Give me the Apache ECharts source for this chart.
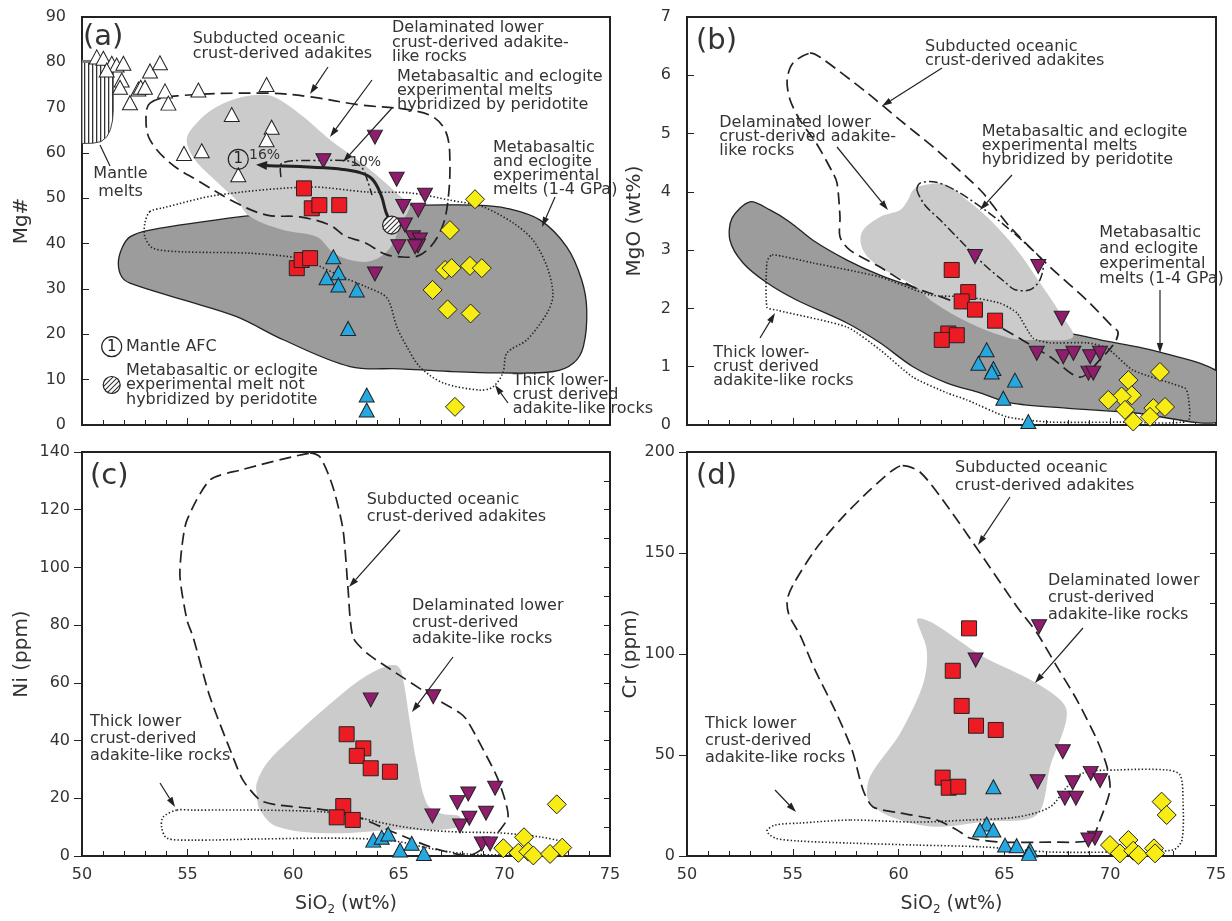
<!DOCTYPE html>
<html>
<head>
<meta charset="utf-8">
<title>SiO2 variation diagrams</title>
<script src="https://cdn.jsdelivr.net/npm/echarts/dist/echarts.min.js"></script>
<style>
  html, body { margin: 0; padding: 0; background: #fff; }
  #main { width: 1232px; height: 921px; }
</style>
</head>
<body>
<div id="main"></div>
<script>
// ---- data: [SiO2 wt%, value] ----
// (a) Mg#
const aWhite = [[50.70,81.2],[51.01,80.9],[51.41,79.8],[51.64,79.4],[51.96,79.8],[51.17,78.3],[51.88,76.1],[51.80,74.5],[52.27,71.1],[52.67,74.1],[52.78,74.5],[52.98,74.5],[53.22,78.1],[53.69,79.9],[53.93,73.7],[54.09,71.0],[55.51,73.9],[57.09,68.5],[58.74,75.1],[58.98,65.7],[58.74,62.9],[54.83,59.9],[55.67,60.5],[57.40,55.2]];
const aRed = [[60.51,52.2],[60.88,47.8],[61.24,48.5],[62.18,48.5],[60.17,34.6],[60.40,36.4],[60.80,36.8]];
const aPurple = [[61.43,58.3],[63.87,63.5],[64.90,54.2],[66.24,50.7],[65.21,48.2],[65.92,47.4],[65.29,44.1],[64.98,39.3],[65.67,41.3],[66.00,40.8],[65.91,39.5],[65.77,39.3],[63.87,33.3]];
const aBlue = [[61.90,37.1],[61.58,32.5],[62.14,33.6],[62.14,30.9],[63.01,29.8],[62.60,21.3],[63.48,6.6],[63.48,3.3]];
const aYellow = [[68.61,49.8],[67.42,43.0],[67.19,34.2],[67.50,34.6],[68.37,35.1],[68.93,34.6],[66.60,29.8],[67.31,25.5],[68.40,24.6],[67.66,4.0]];

// (b) MgO
const bRed = [[62.51,2.66],[63.29,2.28],[62.98,2.12],[63.61,1.98],[64.56,1.79],[62.35,1.57],[62.75,1.54],[62.04,1.46]];
const bPurple = [[63.61,2.89],[66.60,2.72],[67.71,1.83],[66.53,1.23],[67.78,1.17],[68.26,1.23],[69.05,1.17],[69.52,1.23],[68.97,0.89],[69.20,0.89]];
const bBlue = [[64.16,1.29],[63.77,1.06],[64.48,0.97],[64.40,0.91],[65.50,0.77],[64.95,0.46],[66.13,0.06]];
const bYellow = [[72.35,0.91],[70.86,0.77],[71.02,0.51],[70.54,0.49],[69.91,0.43],[70.70,0.26],[72.04,0.29],[72.59,0.31],[71.88,0.14],[71.09,0.06]];

// (c) Ni
const cRed = [[62.53,42.2],[63.32,37.3],[63.01,34.7],[63.67,30.4],[64.58,29.2],[62.37,17.3],[62.06,13.4],[62.82,12.5]];
const cPurple = [[63.67,54.1],[66.63,55.2],[66.59,13.9],[68.29,21.5],[67.77,18.5],[69.56,23.5],[68.34,13.1],[67.90,10.4],[69.13,14.8],[68.93,4.2],[69.32,4.2]];
const cBlue = [[63.79,5.5],[64.19,6.5],[64.50,7.6],[65.06,2.1],[65.61,4.4],[66.19,0.9]];
const cYellow = [[72.48,17.9],[70.93,6.5],[69.95,2.7],[70.66,1.1],[71.13,1.5],[71.37,0.2],[72.16,0.7],[72.74,2.9]];

// (d) Cr
const dRed = [[63.33,112.7],[62.56,91.7],[62.98,74.3],[63.66,64.5],[64.59,62.4],[62.08,38.8],[62.37,33.8],[62.82,34.3]];
const dPurple = [[66.64,113.5],[63.64,97.0],[67.76,51.6],[66.57,36.8],[69.08,40.9],[69.52,37.3],[68.23,36.3],[67.86,28.6],[68.38,28.6],[69.28,8.8],[68.97,7.9]];
const dBlue = [[64.48,34.3],[64.16,15.8],[63.85,12.9],[64.48,12.9],[65.03,5.4],[65.58,5.1],[66.21,3.0],[66.16,1.3]];
const dYellow = [[72.43,26.9],[72.67,20.3],[69.99,5.4],[70.86,7.9],[70.46,1.3],[71.09,2.6],[71.33,0.5],[72.07,3.8],[72.12,1.3]];

// ---- field outlines ----
const aExpMelts = [[51.72,35.7],[51.89,39.0],[52.27,41.5],[53.22,43.0],[57.62,46.0],[60.32,47.2],[64.11,48.5],[66.16,48.5],[68.69,48.5],[70.11,47.8],[71.69,45.2],[72.95,39.3],[73.66,32.0],[73.90,25.4],[73.74,17.3],[73.26,13.6],[72.32,11.8],[69.79,11.5],[67.42,11.8],[65.06,12.4],[62.69,12.9],[59.53,18.8],[57.32,23.9],[54.80,27.6],[52.27,31.3],[51.88,32.7]];
const aHybrid = [[54.96,62.9],[55.43,66.6],[56.38,70.2],[57.64,72.4],[58.75,72.8],[59.38,71.7],[60.56,67.7],[61.74,62.9],[62.93,58.9],[64.11,54.5],[65.06,50.5],[65.53,48.5],[65.06,44.1],[64.68,39.7],[64.02,36.8],[63.16,36.0],[61.98,37.7],[61.11,41.5],[59.53,43.0],[57.95,46.0],[57.32,49.6],[56.30,54.0],[55.35,58.5]];
const aSubducted = [[53.22,71.0],[54.50,72.6],[58.76,73.2],[60.80,72.4],[63.16,70.6],[65.53,69.5],[66.71,67.7],[67.28,64.0],[67.42,57.4],[67.33,49.6],[67.09,44.1],[66.57,39.7],[65.91,37.3],[65.06,37.1],[64.35,37.7],[63.40,40.2],[62.45,41.7],[61.74,44.1],[60.32,45.9],[58.76,46.3],[57.34,48.9],[55.45,54.0],[54.17,57.8],[53.22,62.9],[53.03,67.3]];
const aThickCrust = [[53.22,47.1],[52.98,44.6],[52.98,41.5],[53.36,39.0],[54.78,38.2],[57.95,37.9],[60.32,36.8],[60.94,35.7],[62.36,32.6],[63.49,30.4],[64.44,28.0],[64.91,21.6],[65.39,17.2],[66.00,12.8],[67.09,9.3],[68.84,7.7],[69.46,8.4],[69.93,11.5],[70.12,15.9],[71.07,18.8],[72.02,24.7],[72.30,28.7],[72.02,34.9],[71.35,40.8],[70.41,44.6],[68.99,48.1],[67.42,49.6],[65.53,51.2],[63.49,51.4],[60.80,52.5],[56.39,50.7],[53.84,47.9]];
const aHybridEdge = [[59.42,54.7],[59.47,57.8],[61.27,58.35],[62.69,58.2],[63.26,56.7],[63.54,53.6],[63.73,50.7]];
const aMantleMelts = [[50.0,80.2],[51.48,80.2],[51.48,69.5],[51.45,67.3],[51.35,65.2],[51.18,63.6],[50.9,62.5],[50.5,62.15],[50.0,62.1]];
const aAfcTrend = [[64.66,44.1],[64.39,47.0],[64.16,50.7],[63.73,54.3],[63.07,55.8],[62.12,56.5],[60.32,57.0],[58.90,57.2],[58.24,57.4]];
const aAfcMark = [[57.40,58.6]];

const bExpMelts = [[52.98,3.83],[53.92,3.69],[54.87,3.48],[55.95,3.17],[57.56,2.83],[59.12,2.57],[60.68,2.37],[62.29,2.20],[63.85,1.97],[65.26,1.77],[67.16,1.60],[68.24,1.56],[69.52,1.46],[72.35,1.25],[75.3,0.85],[75.3,0.07],[71.08,0.21],[67.91,0.29],[65.26,0.38],[63.85,0.55],[62.29,0.72],[60.68,1.00],[59.12,1.41],[57.56,1.75],[55.20,2.14],[53.78,2.44],[52.65,2.78],[52.03,3.17],[52.13,3.55]];
const bHybrid = [[58.27,3.31],[59.12,3.57],[60.07,3.69],[60.44,3.86],[60.68,4.03],[61.01,4.10],[62.19,4.13],[63.23,3.86],[64.32,3.52],[65.60,3.00],[66.68,2.44],[67.63,1.92],[68.24,1.51],[66.68,1.46],[65.26,1.49],[63.23,1.77],[61.63,2.11],[60.68,2.40],[59.12,2.71],[58.32,3.00]];
const bSubducted = [[55.81,6.38],[56.29,6.31],[58.51,5.70],[60.07,5.23],[61.63,4.77],[63.23,4.25],[63.99,3.98],[65.26,3.40],[67.16,2.71],[68.90,2.14],[70.13,1.68],[70.37,1.60],[70.23,1.42],[69.52,1.12],[68.57,0.82],[67.16,1.17],[64.79,1.68],[62.43,2.14],[60.68,2.37],[59.12,2.71],[57.70,3.00],[57.23,3.23],[57.23,3.57],[57.09,4.15],[56.90,4.32],[56.10,4.84],[55.34,5.23],[54.87,5.58],[54.73,5.92],[55.01,6.21]];
const bHybridEdge = [[60.87,4.03],[61.01,4.15],[61.72,4.17],[62.67,4.03],[64.08,3.69],[65.26,3.35],[66.21,3.04],[66.82,2.80],[66.68,2.49],[66.21,2.32],[65.50,2.32],[65.03,2.45],[64.08,2.74],[62.90,3.17],[61.96,3.52],[61.25,3.77]];
const bThickCrust = [[54.02,2.92],[55.95,2.78],[59.12,2.54],[61.48,2.23],[63.23,2.20],[64.79,2.09],[65.60,1.92],[66.35,1.49],[67.16,1.41],[68.90,1.41],[69.85,1.32],[71.08,0.94],[73.54,0.63],[73.68,0.51],[73.68,0.07],[70.46,0.05],[67.16,0.05],[65.12,0.14],[63.23,0.43],[62.29,0.55],[60.68,0.82],[59.12,1.29],[57.56,1.68],[54.25,1.97],[53.78,2.02],[53.78,2.80]];

const cSubducted = [[60.80,139.6],[61.27,138.3],[61.88,127.9],[62.36,113.0],[62.59,93.2],[62.83,75.9],[63.49,70.3],[64.44,65.5],[66.62,55.1],[67.90,49.5],[68.23,47.1],[69.18,34.3],[69.65,27.4],[70.03,19.4],[70.17,13.5],[69.79,9.0],[69.18,3.8],[68.47,0.4],[67.90,0.4],[66.62,2.8],[64.73,8.3],[63.16,13.2],[61.60,15.9],[59.23,17.7],[58.43,19.4],[57.62,26.3],[57.15,34.3],[56.06,55.1],[55.26,75.9],[54.97,81.8],[54.64,96.7],[54.73,107.1],[54.97,116.4],[56.06,130.3],[57.48,133.7]];
const cDelaminated = [[58.27,25.2],[58.75,32.1],[60.00,41.3],[61.59,51.7],[63.16,61.0],[64.43,65.8],[64.98,65.6],[65.21,61.0],[65.53,46.0],[65.85,32.1],[66.32,18.3],[66.95,14.8],[67.90,13.6],[67.66,9.7],[64.73,9.0],[61.59,7.9],[59.22,10.2],[58.43,15.9],[58.27,21.8]];
const cThickCrust = [[54.48,15.9],[53.84,13.5],[53.77,10.0],[54.02,6.2],[55.26,5.5],[58.43,5.9],[61.60,6.2],[63.64,5.9],[65.06,4.9],[66.62,2.4],[68.23,0.7],[69.79,0.4],[71.69,0.4],[72.77,1.4],[72.96,3.5],[72.77,4.9],[71.69,6.6],[69.79,8.0],[67.90,8.3],[66.34,9.0],[64.73,10.7],[63.16,13.2],[61.60,15.2],[58.43,15.9],[55.26,15.9]];

const dSubducted = [[60.07,193.1],[58.65,181.2],[57.23,166.3],[56.05,151.5],[55.01,134.2],[54.73,126.7],[54.82,119.3],[55.34,109.4],[56.05,92.1],[56.99,72.3],[57.80,52.5],[58.32,32.7],[58.79,24.3],[60.07,21.3],[61.81,17.8],[62.76,12.9],[63.37,8.9],[64.79,6.9],[67.16,6.9],[69.05,7.9],[69.52,17.8],[69.99,32.7],[69.85,44.1],[69.38,57.4],[68.43,77.2],[67.49,93.6],[66.54,110.4],[65.60,123.3],[64.08,146.5],[62.43,171.3],[61.01,190.1]];
const dDelaminated = [[60.86,116.8],[61.33,102.0],[61.17,85.5],[60.07,60.7],[58.65,39.3],[58.57,27.7],[59.59,19.5],[61.64,14.5],[64.00,17.0],[66.53,20.3],[67.16,44.2],[67.94,72.3],[66.53,85.5],[64.00,98.7],[61.64,115.2],[61.01,117.7]];
const dThickCrust = [[57.70,17.8],[55.34,16.3],[54.16,15.3],[53.78,12.4],[54.16,8.9],[55.34,7.4],[57.70,6.4],[60.87,5.4],[63.99,4.5],[67.16,2.0],[70.32,2.0],[72.97,3.0],[73.39,7.9],[73.44,27.7],[73.30,40.1],[72.68,42.6],[70.32,42.6],[68.71,41.1],[67.96,34.2],[67.16,24.3],[65.60,19.3],[63.23,17.8],[60.87,16.8]];

// ---- axis ranges ----
const yMax = [90, 7, 140, 200];
const yStep = [10, 1, 20, 50];
const yNames = ['Mg#', 'MgO (wt%)', 'Ni (ppm)', 'Cr (ppm)'];

const FONT = 'DejaVu Sans';
const INK = '#222';

function makePattern(kind) {
  const c = document.createElement('canvas');
  const ctx = c.getContext('2d');
  if (kind === 'v') {
    c.width = 4; c.height = 4;
    ctx.fillStyle = '#fff'; ctx.fillRect(0, 0, 4, 4);
    ctx.fillStyle = '#333'; ctx.fillRect(0, 0, 1.3, 4);
  } else {
    c.width = 5; c.height = 5;
    ctx.fillStyle = '#fff'; ctx.fillRect(0, 0, 5, 5);
    ctx.strokeStyle = '#333'; ctx.lineWidth = 1.1;
    ctx.beginPath();
    ctx.moveTo(0, 5); ctx.lineTo(5, 0);
    ctx.moveTo(-1, 1); ctx.lineTo(1, -1);
    ctx.moveTo(4, 6); ctx.lineTo(6, 4);
    ctx.stroke();
  }
  return { image: c, repeat: 'repeat' };
}
const vHatch = makePattern('v');
const dHatch = makePattern('d');

const darkStyle = { fill: '#9c9c9c', stroke: INK, lineWidth: 1.3 };
const lightStyle = { fill: '#cbcbcb' };
const dashStyle = { fill: 'none', stroke: INK, lineWidth: 1.7, lineDash: [12, 6] };
const dotStyle = { fill: 'none', stroke: INK, lineWidth: 1.6, lineDash: [1.4, 2.1] };
const dashDotStyle = { fill: 'none', stroke: INK, lineWidth: 1.5, lineDash: [9, 3, 2, 3] };

function field(gi, pts, style, smooth, z, open) {
  return {
    type: 'custom', xAxisIndex: gi, yAxisIndex: gi, data: [pts[0]],
    silent: true, clip: true, z: z,
    renderItem: function (params, api) {
      return {
        type: open ? 'polyline' : 'polygon',
        shape: { points: pts.map(function (p) { return api.coord(p); }), smooth: smooth },
        style: style
      };
    }
  };
}

function samples(gi, data, symbol, color, size, rotate) {
  return {
    type: 'scatter', xAxisIndex: gi, yAxisIndex: gi, data: data,
    symbol: symbol, symbolSize: size, symbolRotate: rotate || 0,
    itemStyle: { color: color, borderColor: INK, borderWidth: 1, opacity: 1 },
    silent: true, z: 5
  };
}

function panelSeries(gi, red, purple, blue, yellow) {
  return [
    samples(gi, blue, 'triangle', '#25a7df', [15, 14]),
    samples(gi, yellow, 'diamond', '#f7ec13', [19, 19]),
    samples(gi, purple, 'triangle', '#8f1c6c', [15, 14], 180),
    samples(gi, red, 'rect', '#ed1c24', [15, 15])
  ];
}

const series = [
  // (a)
  field(0, aExpMelts, darkStyle, 0.35, 1),
  field(0, aHybrid, lightStyle, 0.35, 2),
  field(0, aThickCrust, dotStyle, 0.3, 3),
  field(0, aSubducted, dashStyle, 0.35, 3),
  field(0, aHybridEdge, dashDotStyle, 0.3, 3, true),
  {
    type: 'custom', xAxisIndex: 0, yAxisIndex: 0, data: [aMantleMelts[0]], silent: true, z: 3,
    renderItem: function (params, api) {
      const p = aMantleMelts.map(function (q) { return api.coord(q); });
      return { type: 'group', children: [
        { type: 'polygon', shape: { points: p }, style: { fill: vHatch, stroke: '#444', lineWidth: 1 } },
        { type: 'line', shape: { x1: p[0][0], y1: p[0][1], x2: p[1][0], y2: p[1][1] }, style: { stroke: '#7a7a7a', lineWidth: 3 } }
      ] };
    }
  },
  samples(0, aWhite, 'triangle', '#ffffff', [15, 14]),
  {
    type: 'custom', xAxisIndex: 0, yAxisIndex: 0, data: [aAfcTrend[0]], silent: true, z: 4,
    renderItem: function (params, api) {
      const p = aAfcTrend.map(function (q) { return api.coord(q); });
      const n = p.length, e = p[n - 1], s = p[n - 2];
      const a = Math.atan2(e[1] - s[1], e[0] - s[0]);
      const L = 11, W = 4.5;
      const bx = e[0] - L * Math.cos(a), by = e[1] - L * Math.sin(a);
      const line = p.slice(0, n - 1).concat([[bx, by]]);
      return { type: 'group', children: [
        { type: 'polyline', shape: { points: line, smooth: 0.4 }, style: { stroke: INK, lineWidth: 3, fill: 'none' } },
        { type: 'polygon', shape: { points: [e, [bx - W * Math.sin(a), by + W * Math.cos(a)], [bx + W * Math.sin(a), by - W * Math.cos(a)]] }, style: { fill: INK } },
        { type: 'circle', z2: 10, shape: { cx: p[0][0], cy: p[0][1], r: 9 }, style: { fill: dHatch, stroke: INK, lineWidth: 1.2 } }
      ] };
    }
  },
  {
    type: 'scatter', xAxisIndex: 0, yAxisIndex: 0, data: aAfcMark, symbol: 'circle', symbolSize: 20,
    itemStyle: { color: 'rgba(255,255,255,0)', borderColor: INK, borderWidth: 1.2, opacity: 1 },
    label: { show: true, position: 'inside', formatter: '1', fontFamily: FONT, fontSize: 15, color: '#222' },
    silent: true, z: 6
  }
].concat(panelSeries(0, aRed, aPurple, aBlue, aYellow), [
  // (b)
  field(1, bExpMelts, darkStyle, 0.3, 1),
  field(1, bHybrid, lightStyle, 0.35, 2),
  field(1, bThickCrust, dotStyle, 0.2, 3),
  field(1, bSubducted, dashStyle, 0.3, 3),
  field(1, bHybridEdge, dashDotStyle, 0.3, 3)
], panelSeries(1, bRed, bPurple, bBlue, bYellow), [
  // (c)
  field(2, cDelaminated, lightStyle, 0.35, 2),
  field(2, cThickCrust, dotStyle, 0.3, 3),
  field(2, cSubducted, dashStyle, 0.25, 3)
], panelSeries(2, cRed, cPurple, cBlue, cYellow), [
  // (d)
  field(3, dDelaminated, lightStyle, 0.3, 2),
  field(3, dThickCrust, dotStyle, 0.3, 3),
  field(3, dSubducted, dashStyle, 0.25, 3)
], panelSeries(3, dRed, dPurple, dBlue, dYellow));

// ---- layout ----
const grids = [
  { left: 82, top: 17, width: 528, height: 408 },
  { left: 687, top: 17, width: 529, height: 408 },
  { left: 82, top: 452, width: 528, height: 404 },
  { left: 687, top: 452, width: 529, height: 404 }
].map(function (g) {
  return Object.assign({ show: true, borderColor: INK, borderWidth: 2, backgroundColor: 'transparent', outerBoundsMode: 'none' }, g);
});

const xAxes = [0, 1, 2, 3].map(function (i) {
  return {
    gridIndex: i, type: 'value', min: 50, max: 75, interval: 5,
    name: i >= 2 ? 'SiO{sub|2} (wt%)' : '', nameLocation: 'middle', nameGap: 36,
    nameTextStyle: { fontFamily: FONT, fontSize: 19, color: '#333',
      rich: { sub: { fontFamily: FONT, fontSize: 12, color: '#333', padding: [12, 0, 0, 0] } } },
    axisLine: { show: true, onZero: false, lineStyle: { color: INK, width: 2 } },
    axisTick: { show: true, inside: true, length: 7, lineStyle: { color: INK, width: 1 } },
    minorTick: { show: true, splitNumber: 5, length: 5, lineStyle: { color: INK, width: 1 } },
    axisLabel: { show: i >= 2, margin: 11, fontFamily: FONT, fontSize: 16, color: '#333' },
    splitLine: { show: false }
  };
});

const yAxes = [0, 1, 2, 3].map(function (i) {
  return {
    gridIndex: i, type: 'value', min: 0, max: yMax[i], interval: yStep[i],
    name: yNames[i], nameLocation: 'middle', nameGap: i % 2 === 0 ? 50 : 42,
    nameTextStyle: { fontFamily: FONT, fontSize: 20, color: '#333' },
    axisLine: { show: true, onZero: false, lineStyle: { color: INK, width: 2 } },
    axisTick: { show: true, inside: i < 2, length: i < 2 ? 7 : 8, lineStyle: { color: INK, width: 1 } },
    axisLabel: { margin: i < 2 ? 16 : 12, fontFamily: FONT, fontSize: 16, color: '#333' },
    splitLine: { show: false }
  };
}).concat([2, 3].map(function (i) {
  return {
    gridIndex: i, type: 'value', min: 0, max: yMax[i], interval: yStep[i] / 2,
    axisLine: { show: false }, axisLabel: { show: false }, splitLine: { show: false },
    axisTick: { show: true, inside: true, length: 6, lineStyle: { color: INK, width: 1 } }
  };
}));

// ---- annotations (pixel layout) ----
function label(x, yc, s, lh, align, size) {
  lh = lh || 14.5;
  return {
    type: 'text', x: x, y: yc - lh / 2, z: 50, silent: true,
    style: { text: s, fontFamily: FONT, fontSize: size || 16, lineHeight: lh, fill: '#333', verticalAlign: 'top', align: align || 'left' }
  };
}
function arrow(x1, y1, x2, y2) {
  const a = Math.atan2(y2 - y1, x2 - x1), L = 10, W = 3.2;
  const bx = x2 - L * Math.cos(a), by = y2 - L * Math.sin(a);
  return [
    { type: 'line', z: 50, silent: true, shape: { x1: x1, y1: y1, x2: bx, y2: by }, style: { stroke: INK, lineWidth: 1.2 } },
    { type: 'polygon', z: 50, silent: true, shape: { points: [[x2, y2], [bx - W * Math.sin(a), by + W * Math.cos(a)], [bx + W * Math.sin(a), by - W * Math.cos(a)]] }, style: { fill: INK } }
  ];
}
function letter(x, yc, s) {
  return { type: 'text', x: x, y: yc, z: 50, silent: true,
    style: { text: s, fontFamily: FONT, fontSize: 29, fill: '#333', verticalAlign: 'middle', align: 'left' } };
}

const graphic = [
  letter(83, 37, '(a)'), letter(696, 41, '(b)'), letter(90, 476, '(c)'), letter(696, 476, '(d)'),
  // (a)
  label(192.7, 39, 'Subducted oceanic\ncrust-derived adakites'),
  label(392, 28, 'Delaminated lower\ncrust-derived adakite-\nlike rocks'),
  label(397, 77, 'Metabasaltic and eclogite\nexperimental melts\nhybridized by peridotite', 14),
  label(493, 148, 'Metabasaltic\nand eclogite\nexperimental\nmelts (1-4 GPa)', 14),
  label(512.7, 381, 'Thick lower-\ncrust derived\nadakite-like rocks', 14),
  label(120.5, 174, 'Mantle\nmelts', 17.5, 'center'),
  label(126, 347, 'Mantle AFC'),
  label(126, 371, 'Metabasaltic or eclogite\nexperimental melt not\nhybridized by peridotite', 14.2),
  label(249, 155, '16%', 14, 'left', 14),
  label(350, 162, '10%', 14, 'left', 14),
  { type: 'line', z: 50, silent: true, shape: { x1: 100, y1: 145, x2: 110, y2: 166 }, style: { stroke: INK, lineWidth: 1.2 } },
  { type: 'circle', z: 50, silent: true, shape: { cx: 111.7, cy: 346.7, r: 10 }, style: { fill: 'none', stroke: INK, lineWidth: 1.2 } },
  { type: 'text', z: 51, silent: true, x: 111.7, y: 347, style: { text: '1', fontFamily: FONT, fontSize: 15, fill: '#222', align: 'center', verticalAlign: 'middle' } },
  { type: 'circle', z: 50, silent: true, shape: { cx: 111.7, cy: 385, r: 8.5 }, style: { fill: dHatch, stroke: INK, lineWidth: 1.2 } },
  // (b)
  label(925, 46.7, 'Subducted oceanic\ncrust-derived adakites'),
  label(719.3, 122.7, 'Delaminated lower\ncrust-derived adakite-\nlike rocks', 14),
  label(981.7, 131.7, 'Metabasaltic and eclogite\nexperimental melts\nhybridized by peridotite', 14.2),
  label(1099.3, 233.3, 'Metabasaltic\nand eclogite\nexperimental\nmelts (1-4 GPa)', 15.2),
  label(713.3, 352.7, 'Thick lower-\ncrust derived\nadakite-like rocks', 14.2),
  // (c)
  label(366.7, 500, 'Subducted oceanic\ncrust-derived adakites', 16.5),
  label(412, 606, 'Delaminated lower\ncrust-derived\nadakite-like rocks', 16.5),
  label(90, 722, 'Thick lower\ncrust-derived\nadakite-like rocks', 17),
  // (d)
  label(955, 468, 'Subducted oceanic\ncrust-derived adakites', 18),
  label(1048, 581, 'Delaminated lower\ncrust-derived\nadakite-like rocks', 17),
  label(705, 724, 'Thick lower\ncrust-derived\nadakite-like rocks', 17)
].concat(
  arrow(328, 67, 310, 94), arrow(372, 80, 330, 137), arrow(392, 108, 343, 162),
  arrow(555, 197, 542, 227), arrow(508, 403, 495, 385),
  arrow(942, 68, 882, 106), arrow(837, 147, 888, 210), arrow(1012, 175, 980, 210),
  arrow(1160, 290, 1160, 353), arrow(760, 338, 775, 313),
  arrow(400, 530, 349, 587), arrow(453, 657, 412, 712), arrow(160, 783, 175, 807),
  arrow(1010, 497, 978, 545), arrow(1083, 628, 1035, 683), arrow(775, 790, 796, 812)
);

const chart = echarts.init(document.getElementById('main'), null, { renderer: 'canvas' });
chart.setOption({
  animation: false,
  backgroundColor: '#fff',
  grid: grids,
  xAxis: xAxes,
  yAxis: yAxes,
  series: series,
  graphic: graphic
});
</script>
</body>
</html>
